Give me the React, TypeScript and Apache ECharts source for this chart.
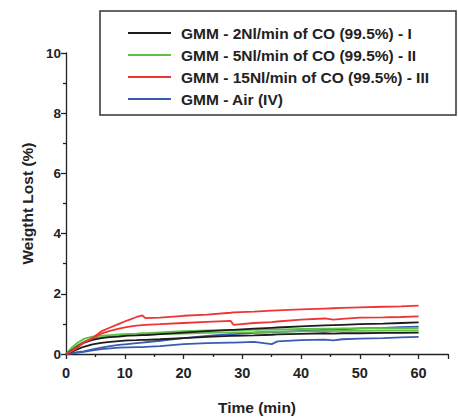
import React, { useEffect, useRef } from "react";
import * as echarts from "echarts";

const times = [0, 1, 2, 3, 4.5, 6, 7.5, 9, 10.5, 12, 13, 13.5, 16, 20, 24, 28, 28.5, 32, 35, 36, 40, 44, 45.5, 47, 50, 54, 57, 60];

const seriesNames = [
  "GMM - 2Nl/min of CO (99.5%) - I",
  "GMM - 5Nl/min of CO (99.5%) - II",
  "GMM - 15Nl/min of CO (99.5%) - III",
  "GMM - Air (IV)",
];

const blackA = [0, 0.12, 0.26, 0.37, 0.47, 0.53, 0.56, 0.58, 0.61, 0.62, 0.63, 0.63, 0.66, 0.71, 0.76, 0.8, 0.8, 0.84, 0.87, 0.88, 0.92, 0.95, 0.96, 0.97, 0.99, 1.01, 1.03, 1.05];
const blackB = [0, 0.08, 0.16, 0.24, 0.32, 0.37, 0.4, 0.43, 0.45, 0.46, 0.47, 0.47, 0.49, 0.53, 0.57, 0.6, 0.6, 0.62, 0.64, 0.65, 0.67, 0.69, 0.68, 0.69, 0.69, 0.7, 0.7, 0.71];
const greenA = [0, 0.22, 0.38, 0.5, 0.58, 0.61, 0.63, 0.65, 0.67, 0.68, 0.69, 0.69, 0.72, 0.76, 0.78, 0.79, 0.79, 0.8, 0.81, 0.81, 0.83, 0.84, 0.84, 0.85, 0.85, 0.86, 0.86, 0.86];
const greenB = [0, 0.16, 0.3, 0.41, 0.51, 0.56, 0.59, 0.61, 0.62, 0.63, 0.64, 0.64, 0.66, 0.68, 0.7, 0.72, 0.72, 0.73, 0.74, 0.74, 0.75, 0.76, 0.76, 0.77, 0.77, 0.78, 0.78, 0.78];
const redA = [0, 0.1, 0.23, 0.38, 0.53, 0.75, 0.88, 1.0, 1.12, 1.23, 1.28, 1.19, 1.21, 1.27, 1.31, 1.37, 1.38, 1.41, 1.44, 1.45, 1.48, 1.51, 1.52, 1.53, 1.55, 1.57, 1.58, 1.61];
const redB = [0, 0.1, 0.22, 0.37, 0.52, 0.68, 0.77, 0.84, 0.9, 0.94, 0.96, 0.97, 0.99, 1.03, 1.07, 1.1, 0.97, 1.03, 1.06, 1.08, 1.14, 1.18, 1.14, 1.17, 1.21, 1.22, 1.23, 1.25];
const blueA = [0, 0.03, 0.06, 0.09, 0.15, 0.21, 0.26, 0.3, 0.33, 0.36, 0.38, 0.39, 0.44, 0.53, 0.6, 0.66, 0.66, 0.7, 0.72, 0.73, 0.77, 0.8, 0.81, 0.82, 0.85, 0.87, 0.89, 0.91];
const blueB = [0, 0.02, 0.05, 0.07, 0.12, 0.16, 0.19, 0.21, 0.22, 0.23, 0.23, 0.24, 0.26, 0.33, 0.36, 0.38, 0.38, 0.4, 0.33, 0.42, 0.46, 0.48, 0.45, 0.49, 0.51, 0.53, 0.55, 0.57];

const colors = ["#1c1c1c", "#5fbf46", "#ef3434", "#3a5cb0"];

const lines: { name: string; color: string; values: number[] }[] = [
  { name: seriesNames[3], color: colors[3], values: blueB },
  { name: seriesNames[3], color: colors[3], values: blueA },
  { name: seriesNames[0], color: colors[0], values: blackB },
  { name: seriesNames[1], color: colors[1], values: greenB },
  { name: seriesNames[1], color: colors[1], values: greenA },
  { name: seriesNames[0], color: colors[0], values: blackA },
  { name: seriesNames[2], color: colors[2], values: redB },
  { name: seriesNames[2], color: colors[2], values: redA },
];

const FONT = "'Liberation Sans', Arial, sans-serif";

export default function App() {
  const ref = useRef<HTMLDivElement>(null);
  useEffect(() => {
    if (!ref.current) return;
    const chart = echarts.init(ref.current, undefined, { renderer: "svg" });
    chart.setOption({
      animation: false,
      backgroundColor: "#ffffff",
      grid: { left: 66, right: 10, top: 53, bottom: 62 },
      graphic: [
        {
          type: "rect",
          z: 1,
          shape: { x: 100, y: 11, width: 356, height: 104 },
          style: { fill: "#ffffff", stroke: "#333333", lineWidth: 1.5 },
        },
      ],
      legend: {
        data: seriesNames.map((n, i) => ({ name: n, itemStyle: { color: colors[i] } })),
        orient: "vertical",
        left: 128,
        top: 25,
        padding: 0,
        itemWidth: 43,
        itemHeight: 2,
        itemGap: 6,
        icon: "rect",
        selectedMode: false,
        z: 5,
        textStyle: {
          fontFamily: FONT,
          fontWeight: "bold",
          fontSize: 15.5,
          lineHeight: 16,
          color: "#222222",
          padding: [0, 0, 0, 5],
        },
      },
      xAxis: {
        type: "value",
        min: 0,
        max: 65,
        interval: 10,
        name: "Time (min)",
        nameLocation: "middle",
        nameGap: 45,
        nameTextStyle: { fontFamily: FONT, fontWeight: "bold", fontSize: 15.5, color: "#222" },
        axisLine: { show: true, onZero: false, lineStyle: { color: "#222", width: 1.3 } },
        axisTick: { show: true, length: 5, lineStyle: { color: "#222", width: 1.3 } },
        minorTick: { show: true, splitNumber: 2, length: 3, lineStyle: { color: "#222", width: 1.3 } },
        splitLine: { show: false },
        axisLabel: {
          fontFamily: FONT,
          fontWeight: "bold",
          fontSize: 14.5,
          color: "#222",
          margin: 11,
          showMaxLabel: false,
          formatter: (v: number) => (v > 60 ? "" : String(v)),
        },
      },
      yAxis: {
        type: "value",
        min: 0,
        max: 10,
        interval: 2,
        name: "Weigtht Lost (%)",
        nameLocation: "middle",
        nameGap: 28,
        nameTextStyle: { fontFamily: FONT, fontWeight: "bold", fontSize: 15.5, color: "#222" },
        axisLine: { show: true, lineStyle: { color: "#222", width: 1.3 } },
        axisTick: { show: true, length: 5, lineStyle: { color: "#222", width: 1.3 } },
        minorTick: { show: true, splitNumber: 2, length: 3, lineStyle: { color: "#222", width: 1.3 } },
        splitLine: { show: false },
        axisLabel: { fontFamily: FONT, fontWeight: "bold", fontSize: 13.5, color: "#222", margin: 5 },
      },
      series: lines.map((l) => ({
        type: "line",
        name: l.name,
        data: times.map((t, i) => [t, l.values[i]]),
        showSymbol: false,
        symbol: "none",
        lineStyle: { color: l.color, width: 1.8 },
        itemStyle: { color: l.color },
      })),
    });
    return () => chart.dispose();
  }, []);
  return (
    <div
      ref={ref}
      style={{ position: "fixed", left: 0, top: 0, width: 458, height: 420 }}
    />
  );
}
